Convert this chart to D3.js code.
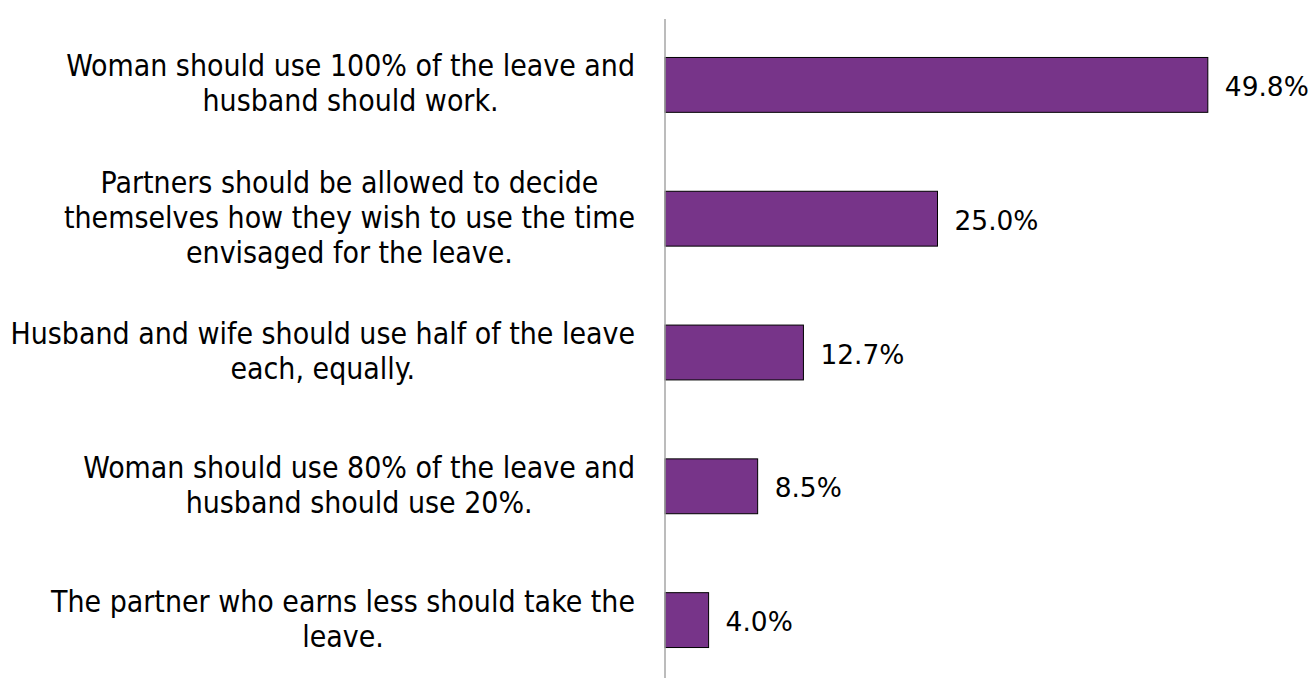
<!DOCTYPE html>
<html>
<head>
<meta charset="utf-8">
<script src="https://cdn.jsdelivr.net/npm/d3@7"></script>
<style>
  html, body { margin: 0; padding: 0; background: #ffffff; }
  svg { display: block; }
</style>
</head>
<body>
<svg id="chart" width="1312" height="678"></svg>
<script>
const categories = [
  ["Woman should use 100% of the leave and", "husband should work."],
  ["Partners should be allowed to decide", "themselves how they wish to use the time", "envisaged for the leave."],
  ["Husband and wife should use half of the leave", "each, equally."],
  ["Woman should use 80% of the leave and", "husband should use 20%."],
  ["The partner who earns less should take the", "leave."]
];
const values = [49.8, 25.0, 12.7, 8.5, 4.0];
const valueLabels = ["49.8%", "25.0%", "12.7%", "8.5%", "4.0%"];

const svg = d3.select("#chart");
const ids = categories.map((c, i) => i);

const x = d3.scaleLinear().domain([0, 60]).range([665, 1319]);
const y = d3.scaleBand().domain(ids).range([18, 687]).paddingInner(0.59).paddingOuter(0.295);

const catFont = '"Liberation Sans Narrow", "DejaVu Sans Condensed", "Liberation Sans", sans-serif';
const valFont = '"DejaVu Sans", Verdana, sans-serif';

// fit font sizes to the reference text widths
function measure(text, font, size) {
  const t = svg.append("text").attr("font-family", font).attr("font-size", size).text(text);
  const w = t.node().getComputedTextLength();
  t.remove();
  return w;
}
const catSize = 100 * 569 / measure(categories[0][0], catFont, 100);
const valSize = 100 * 84 / measure("25.0%", valFont, 100);

// bars
svg.append("g").selectAll("rect").data(ids).join("rect")
  .attr("x", x(0))
  .attr("y", i => y(i))
  .attr("width", i => x(values[i]) - x(0))
  .attr("height", y.bandwidth())
  .attr("fill", "#773489")
  .attr("stroke", "#000")
  .attr("stroke-width", 1);

// axis line
svg.append("line")
  .attr("x1", x(0)).attr("x2", x(0))
  .attr("y1", 19).attr("y2", 678)
  .attr("stroke", "#a6a6a6").attr("stroke-width", 1.5);

// category labels
const lineH = 35;
const rightEdge = 635;
categories.forEach((lines, i) => {
  const cy = y(i) + y.bandwidth() / 2;
  const widths = lines.map(l => measure(l, catFont, catSize));
  const maxW = d3.max(widths);
  const cx = rightEdge - maxW / 2;
  const n = lines.length;
  svg.append("text")
    .attr("font-family", catFont)
    .attr("font-size", catSize)
    .attr("fill", "#000")
    .attr("text-anchor", "middle")
    .selectAll("tspan").data(lines).join("tspan")
      .attr("x", cx)
      .attr("y", (d, k) => cy + 9 + (k - (n - 1) / 2) * lineH)
      .text(d => d);
});

// value labels
svg.append("g").selectAll("text").data(ids).join("text")
  .attr("x", i => x(values[i]) + 17)
  .attr("y", i => y(i) + y.bandwidth() / 2 + 11)
  .attr("font-family", valFont)
  .attr("font-size", valSize)
  .attr("fill", "#000")
  .text(i => valueLabels[i]);
</script>
</body>
</html>
